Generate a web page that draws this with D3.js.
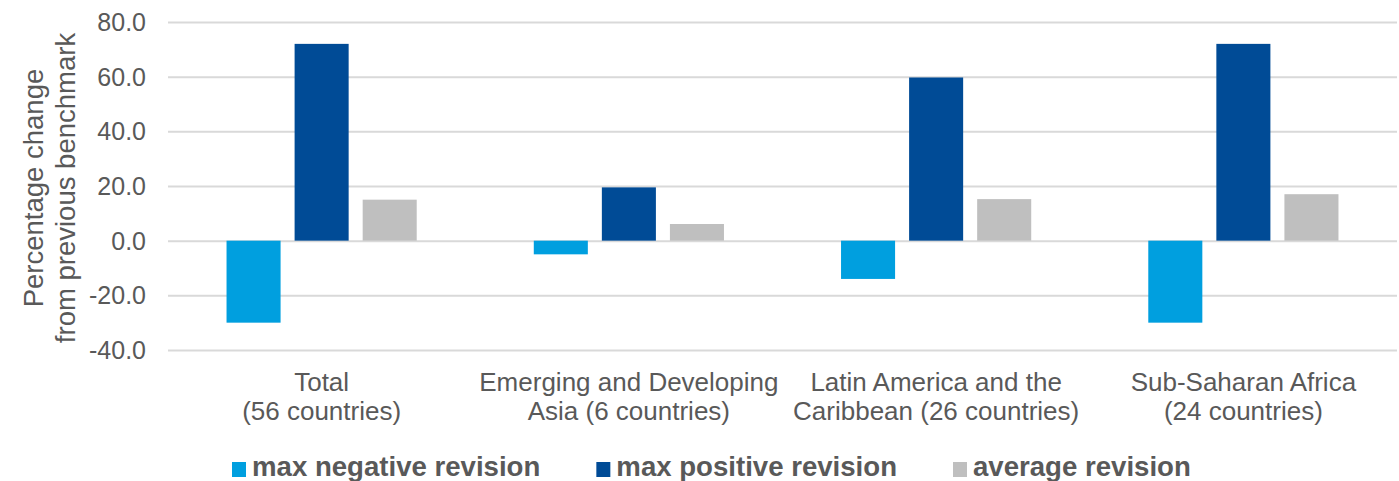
<!DOCTYPE html>
<html>
<head>
<meta charset="utf-8">
<script src="https://cdn.jsdelivr.net/npm/d3@7"></script>
<style>
  html, body { margin: 0; padding: 0; background: #fff; }
  svg { display: block; }
  text { font-family: "Liberation Sans", Arial, sans-serif; }
</style>
</head>
<body>
<svg id="chart" width="1399" height="481"></svg>
<script>
// ---- data ----
const categories = [
  ["Total", "(56 countries)"],
  ["Emerging and Developing", "Asia (6 countries)"],
  ["Latin America and the", "Caribbean (26 countries)"],
  ["Sub-Saharan Africa", "(24 countries)"]
];
const seriesNames = ["max negative revision", "max positive revision", "average revision"];
const maxNegative = [-30.0, -5.0, -14.0, -30.0];
const maxPositive = [72.0, 19.5, 59.7, 72.0];
const averageRev  = [15.0, 6.1, 15.2, 17.0];
const yTicks = [-40, -20, 0, 20, 40, 60, 80];
const yTickLabels = ["-40.0", "-20.0", "0.0", "20.0", "40.0", "60.0", "80.0"];
const colors = ["#009fdf", "#004b96", "#bfbfbf"];

// ---- layout ----
const svg = d3.select("#chart");
const plotL = 168, plotR = 1397, plotT = 22, plotB = 350;
const seriesValues = [maxNegative, maxPositive, averageRev];

const x0 = d3.scaleBand().domain(d3.range(categories.length)).range([plotL, plotR]).padding(0);
const x1 = d3.scaleBand().domain(d3.range(seriesNames.length))
  .range([0, x0.bandwidth()]).paddingInner(0.206).paddingOuter(0.86);
const y = d3.scaleLinear().domain([-40, 80]).range([plotB, plotT]);

// gridlines
const yAxis = d3.axisLeft(y).tickValues(yTicks)
  .tickSize(-(plotR - plotL)).tickPadding(22)
  .tickFormat(d => yTickLabels[yTicks.indexOf(d)]);
const gy = svg.append("g").attr("transform", `translate(${plotL},0)`).call(yAxis);
gy.select(".domain").remove();
gy.selectAll(".tick line").attr("stroke", "#d9d9d9").attr("stroke-width", 2);
gy.selectAll(".tick text").attr("fill", "#595959").attr("font-size", 25).attr("dy", "0.34em")
  .attr("font-family", "Liberation Sans, Arial, sans-serif");

// bars
const groups = svg.append("g").selectAll("g").data(categories).join("g")
  .attr("transform", (d, i) => `translate(${x0(i)},0)`);
groups.selectAll("rect")
  .data((d, i) => seriesValues.map((arr, s) => ({ s, v: arr[i] })))
  .join("rect")
  .attr("x", d => x1(d.s))
  .attr("width", x1.bandwidth())
  .attr("y", d => y(Math.max(0, d.v)))
  .attr("height", d => Math.abs(y(d.v) - y(0)))
  .attr("fill", d => colors[d.s]);

// category labels
const cat = svg.append("g").selectAll("text").data(categories).join("text")
  .attr("text-anchor", "middle").attr("fill", "#595959").attr("font-size", 26)
  .attr("transform", (d, i) => `translate(${x0(i) + x0.bandwidth() / 2},391)`);
cat.selectAll("tspan").data(d => d).join("tspan")
  .attr("x", 0).attr("y", (d, i) => i * 29).text(d => d);

// y axis title
const yt = svg.append("text").attr("fill", "#595959").attr("font-size", 27.5)
  .attr("text-anchor", "middle")
  .attr("transform", "translate(43,188) rotate(-90)");
yt.append("tspan").attr("x", 0).attr("y", 0).text("Percentage change");
yt.append("tspan").attr("x", 0).attr("y", 32).text("from previous benchmark");

// legend
const lg = svg.append("g");
let lx = 232;
seriesNames.forEach((name, i) => {
  lg.append("rect").attr("x", lx).attr("y", 462).attr("width", 14).attr("height", 15).attr("fill", colors[i]);
  const t = lg.append("text").attr("x", lx + 20).attr("y", 476)
    .attr("font-size", 27.6).attr("font-weight", "bold").attr("fill", "#595959").text(name);
  lx += 20 + t.node().getComputedTextLength() + 56;
});
</script>
</body>
</html>
